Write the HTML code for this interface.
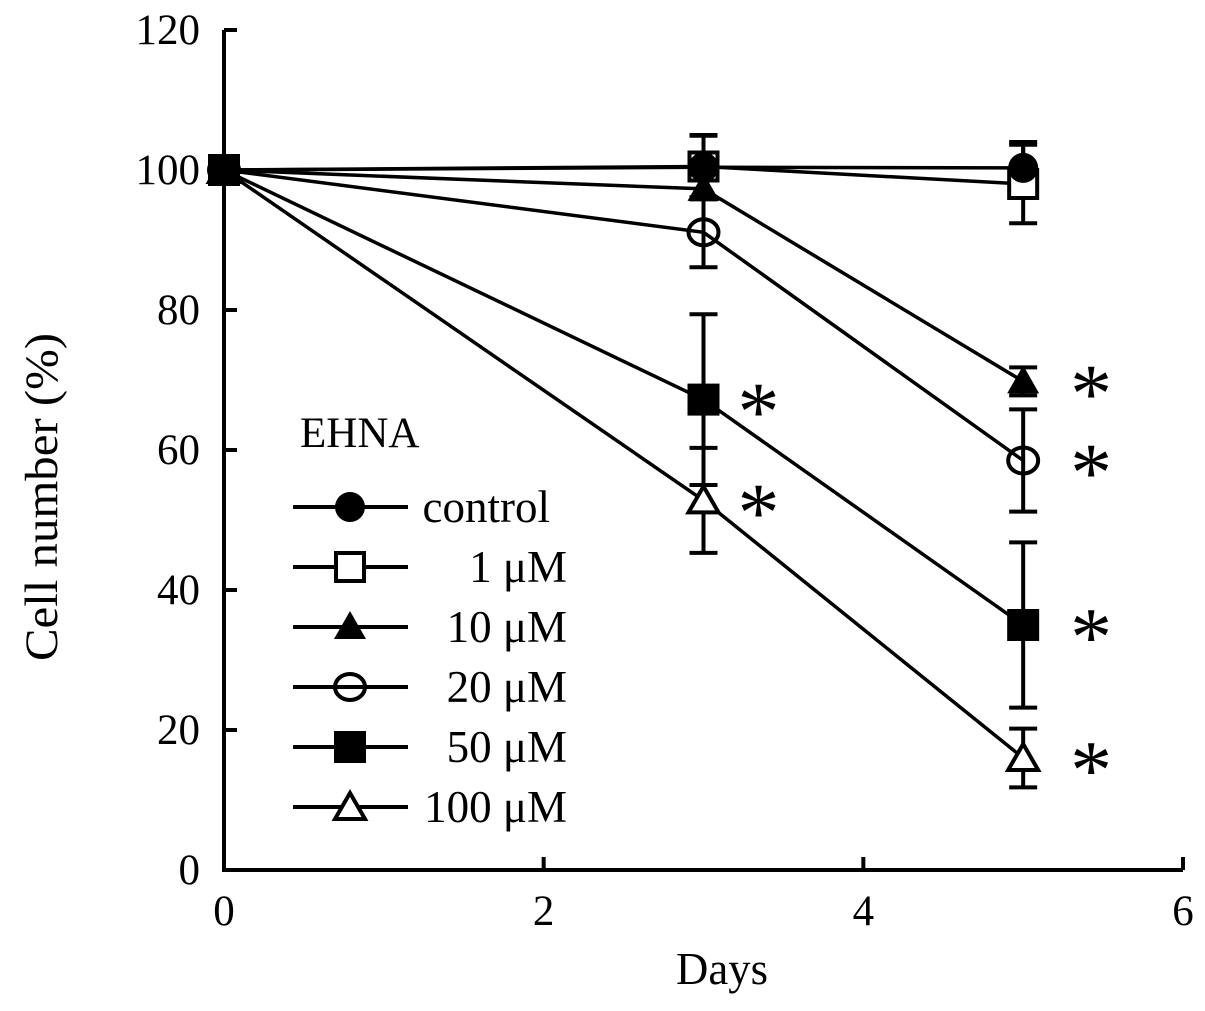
<!DOCTYPE html>
<html><head><meta charset="utf-8"><style>
body{margin:0;background:#fff}
svg text{font-family:"Liberation Serif",serif;fill:#000}
</style></head><body>
<svg id="chart" width="1205" height="1006" viewBox="0 0 1205 1006" xmlns="http://www.w3.org/2000/svg">
<g id="axes"></g><g id="series"></g><g id="legend"></g>
</svg>
<script>
const days = [0, 3, 5];
const seriesNames = ["control", "1 μM", "10 μM", "20 μM", "50 μM", "100 μM"];
const controlVals = [100, 100.4, 100.3];
const um1Vals = [100, 100.5, 98];
const um10Vals = [100, 97.3, 69.8];
const um20Vals = [100, 91.1, 58.5];
const um50Vals = [100, 67.2, 35];
const um100Vals = [100, 52.8, 16];
const controlErr = [0, 4.5, 3.7];
const um1Err = [0, 4.5, 5.6];
const um10Err = [0, 1.5, 2];
const um20Err = [0, 5, 7.3];
const um50Err = [0, 12.2, 11.8];
const um100Err = [0, 7.5, 4.2];
const xTicks = [0, 2, 4, 6];
const yTicks = [0, 20, 40, 60, 80, 100, 120];
const starFlags = [[0,0,0],[0,0,0],[0,0,1],[0,0,1],[0,1,1],[0,1,1]];

const NS = "http://www.w3.org/2000/svg";
const X = d => 224 + d * (1183 - 224) / 6;
const Y = v => 870 - v * 7;
function mk(tag, attrs, parent){const e=document.createElementNS(NS,tag);for(const k in attrs)e.setAttribute(k,attrs[k]);parent.appendChild(e);return e;}
const axes=document.getElementById('axes'), ser=document.getElementById('series'), leg=document.getElementById('legend');

let a=mk('path',{d:`M${X(0)} ${Y(120)} V${Y(0)} H${X(6)}`,stroke:'#000','stroke-width':4,fill:'none'},axes);


yTicks.forEach(t=>{
  let l=mk('line',{x1:X(0),x2:X(0)+13,y1:Y(t),y2:Y(t),stroke:'#000','stroke-width':4},axes);
  
  
  let tx=mk('text',{x:200,y:Y(t)+14,'text-anchor':'end','font-size':43},axes);tx.textContent=t;
  
  
});
xTicks.forEach(t=>{
  let l=mk('line',{x1:X(t),x2:X(t),y1:Y(0),y2:Y(0)-13,stroke:'#000','stroke-width':4},axes);
  
  
  let tx=mk('text',{x:X(t),y:925,'text-anchor':'middle','font-size':43},axes);tx.textContent=t;
  
  
});
let xt=mk('text',{x:722,y:984,'text-anchor':'middle','font-size':45,textLength:92,lengthAdjust:'spacingAndGlyphs'},axes);xt.textContent='Days';


let yt=mk('text',{x:0,y:0,'text-anchor':'middle','font-size':47,textLength:328,lengthAdjust:'spacingAndGlyphs',transform:'translate(57 497) rotate(-90)'},axes);yt.textContent='Cell number (%)';



function marker(i,cx,cy,parent){
  let e;
  if(i==0) e=mk('circle',{cx,cy,r:15,fill:'#000'},parent);
  else if(i==1) e=mk('rect',{x:cx-14,y:cy-14,width:28,height:28,fill:'#fff',stroke:'#000','stroke-width':4},parent);
  else if(i==2) e=mk('path',{d:`M${cx} ${cy-16} L${cx+16} ${cy+12} L${cx-16} ${cy+12}Z`,fill:'#000'},parent);
  else if(i==3) e=mk('ellipse',{cx,cy,rx:15,ry:13,fill:'none',stroke:'#000','stroke-width':4},parent);
  else if(i==4) e=mk('rect',{x:cx-16,y:cy-16,width:32,height:32,fill:'#000'},parent);
  else e=mk('path',{d:`M${cx} ${cy-14} L${cx+15} ${cy+12} L${cx-15} ${cy+12}Z`,fill:'#fff',stroke:'#000','stroke-width':4},parent);
  return e;
}
const allVals=[controlVals,um1Vals,um10Vals,um20Vals,um50Vals,um100Vals];
const allErr=[controlErr,um1Err,um10Err,um20Err,um50Err,um100Err];
const drawOrder=[5,3,2,1,0,4];
allVals.forEach((vals,i)=>{
  vals.forEach((v,j)=>{
    const e=allErr[i][j]; if(!e) return;
    let b=mk('path',{d:`M${X(days[j])} ${Y(v+e)} V${Y(v-e)} M${X(days[j])-14} ${Y(v+e)} h28 M${X(days[j])-14} ${Y(v-e)} h28`,stroke:'#000','stroke-width':4,fill:'none'},ser);
    
    
  });
});
allVals.forEach((vals,i)=>{
  let p=mk('polyline',{points:vals.map((v,j)=>X(days[j])+','+Y(v)).join(' '),stroke:'#000','stroke-width':3.5,fill:'none'},ser);
  
  
});
drawOrder.forEach(i=>{
  allVals[i].forEach((v,j)=>{
    let m=marker(i,X(days[j]),Y(v),ser);
    
    
    if(starFlags[i][j]){
      let s=mk('text',{x:X(days[j])+(j==1?55:68),y:Y(v)+40,'text-anchor':'middle','font-size':84,'font-family':'DejaVu Sans'},ser);s.textContent='*';
      
      
    }
  });
});
let lt=mk('text',{x:300,y:447,'font-size':43},leg);lt.textContent='EHNA';


seriesNames.forEach((n,i)=>{
  const y=507+i*60;
  let l=mk('line',{x1:293,x2:408,y1:y,y2:y,stroke:'#000','stroke-width':4},leg);
  
  
  let m=marker(i,350,y,leg);
  
  
  let t=mk('text',{x:i==0?550:567,y:y+15,'text-anchor':'end','font-size':45},leg);t.textContent=n;
  
  
});
</script>
</body></html>
